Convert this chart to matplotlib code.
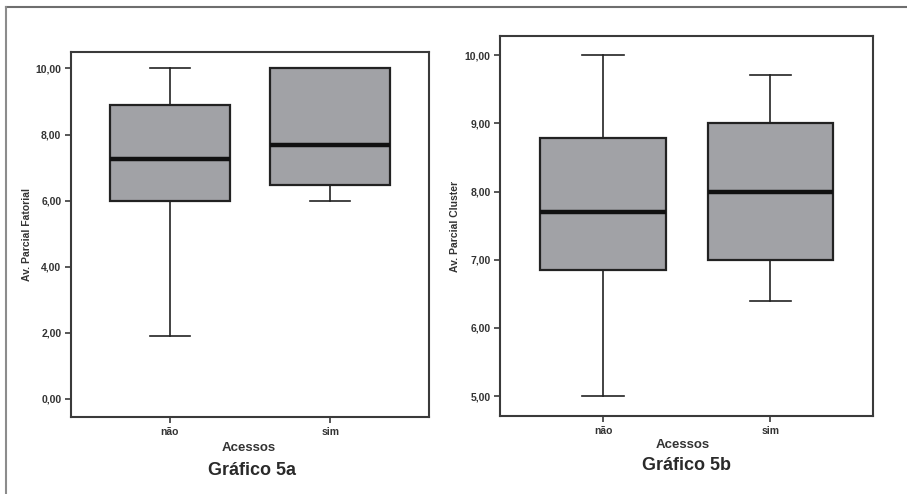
import matplotlib
matplotlib.use('Agg')
import matplotlib.pyplot as plt
from matplotlib import font_manager as fm
from matplotlib.lines import Line2D

# pick the regular-width Liberation Sans (not the Narrow cut)
bold_path = None
for f in fm.fontManager.ttflist:
    if f.name == 'Liberation Sans' and 'Narrow' not in f.fname and f.style == 'normal':
        if f.weight in (700, 'bold'):
            bold_path = f.fname
if bold_path:
    BOLD = fm.FontProperties(fname=bold_path)
else:
    BOLD = fm.FontProperties(family='DejaVu Sans', weight='bold')

groups = ['não', 'sim']

# Gráfico 5a - Av. Parcial Fatorial
fat_min = [1.9, 6.0]
fat_q1 = [6.0, 6.47]
fat_med = [7.25, 7.67]
fat_q3 = [8.89, 10.0]
fat_max = [10.0, 10.0]
fat_ticks = [0, 2, 4, 6, 8, 10]

# Gráfico 5b - Av. Parcial Cluster
clu_min = [5.0, 6.40]
clu_q1 = [6.85, 7.0]
clu_med = [7.70, 8.0]
clu_q3 = [8.79, 9.0]
clu_max = [10.0, 9.71]
clu_ticks = [5, 6, 7, 8, 9, 10]

BOX_GRAY = '#a1a2a6'
SPINE = '#3a3a3a'


def fmt(v):
    return f'{v:.2f}'.replace('.', ',')


def bold(size):
    fp = BOLD.copy()
    fp.set_size(size)
    return fp


def draw_box(ax, mins, q1s, meds, q3s, maxs, ticks, ylim, ylabel):
    stats = []
    for lo, q1, med, q3, hi in zip(mins, q1s, meds, q3s, maxs):
        stats.append({'whislo': lo, 'q1': q1, 'med': med, 'q3': q3, 'whishi': hi, 'fliers': []})
    ax.bxp(stats, positions=[1, 2], widths=0.75, patch_artist=True, showfliers=False,
           boxprops=dict(facecolor=BOX_GRAY, edgecolor='#222222', linewidth=1.6),
           medianprops=dict(color='#111111', linewidth=3.2, solid_capstyle='butt'),
           whiskerprops=dict(color='#222222', linewidth=1.2),
           capprops=dict(color='#222222', linewidth=1.2),
           capwidths=0.25)
    ax.set_xlim(0.385, 2.615)
    ax.set_ylim(*ylim)
    ax.set_yticks(ticks)
    ax.set_yticklabels([fmt(t) for t in ticks])
    ax.set_xticks([1, 2])
    ax.set_xticklabels(groups)
    ax.tick_params(axis='both', direction='out', length=4, width=1.2, color=SPINE,
                   labelcolor='#333333', pad=3)
    for lab in ax.get_xticklabels() + ax.get_yticklabels():
        lab.set_fontproperties(bold(7.5))
    for sp in ax.spines.values():
        sp.set_color(SPINE)
        sp.set_linewidth(1.5)
    ax.set_ylabel(ylabel, fontproperties=bold(7.5), color='#333333')
    ax.set_xlabel('Acessos', fontproperties=bold(9.5), color='#333333')


fig = plt.figure(figsize=(9.07, 4.94), dpi=100)

ax1 = fig.add_axes([0.0783, 0.1559, 0.3947, 0.7389])
draw_box(ax1, fat_min, fat_q1, fat_med, fat_q3, fat_max, fat_ticks, (-0.55, 10.5),
         'Av. Parcial Fatorial')
ax1.yaxis.set_label_coords(-0.109, 0.5)
ax1.xaxis.set_label_coords(0.497, -0.068)

ax2 = fig.add_axes([0.5516, 0.1579, 0.4113, 0.7692])
draw_box(ax2, clu_min, clu_q1, clu_med, clu_q3, clu_max, clu_ticks, (4.71, 10.28),
         'Av. Parcial Cluster')
ax2.yaxis.set_label_coords(-0.108, 0.5)
ax2.xaxis.set_label_coords(0.489, -0.06)

fig.text(252 / 907, 1 - 470 / 494, 'Gráfico 5a', ha='center', va='center',
         fontproperties=bold(13), color='#2a2a2a')
fig.text(687 / 907, 1 - 465 / 494, 'Gráfico 5b', ha='center', va='center',
         fontproperties=bold(13), color='#2a2a2a')

# outer frame: only top and left edges
fig.add_artist(Line2D([6 / 907, 1.0], [1 - 7 / 494, 1 - 7 / 494], transform=fig.transFigure,
                      color='#6e6e6e', linewidth=1.5))
fig.add_artist(Line2D([6 / 907, 6 / 907], [0, 1 - 7 / 494], transform=fig.transFigure,
                      color='#8c8c8c', linewidth=1.5))

fig.savefig('out.png', dpi=100, facecolor='white')
